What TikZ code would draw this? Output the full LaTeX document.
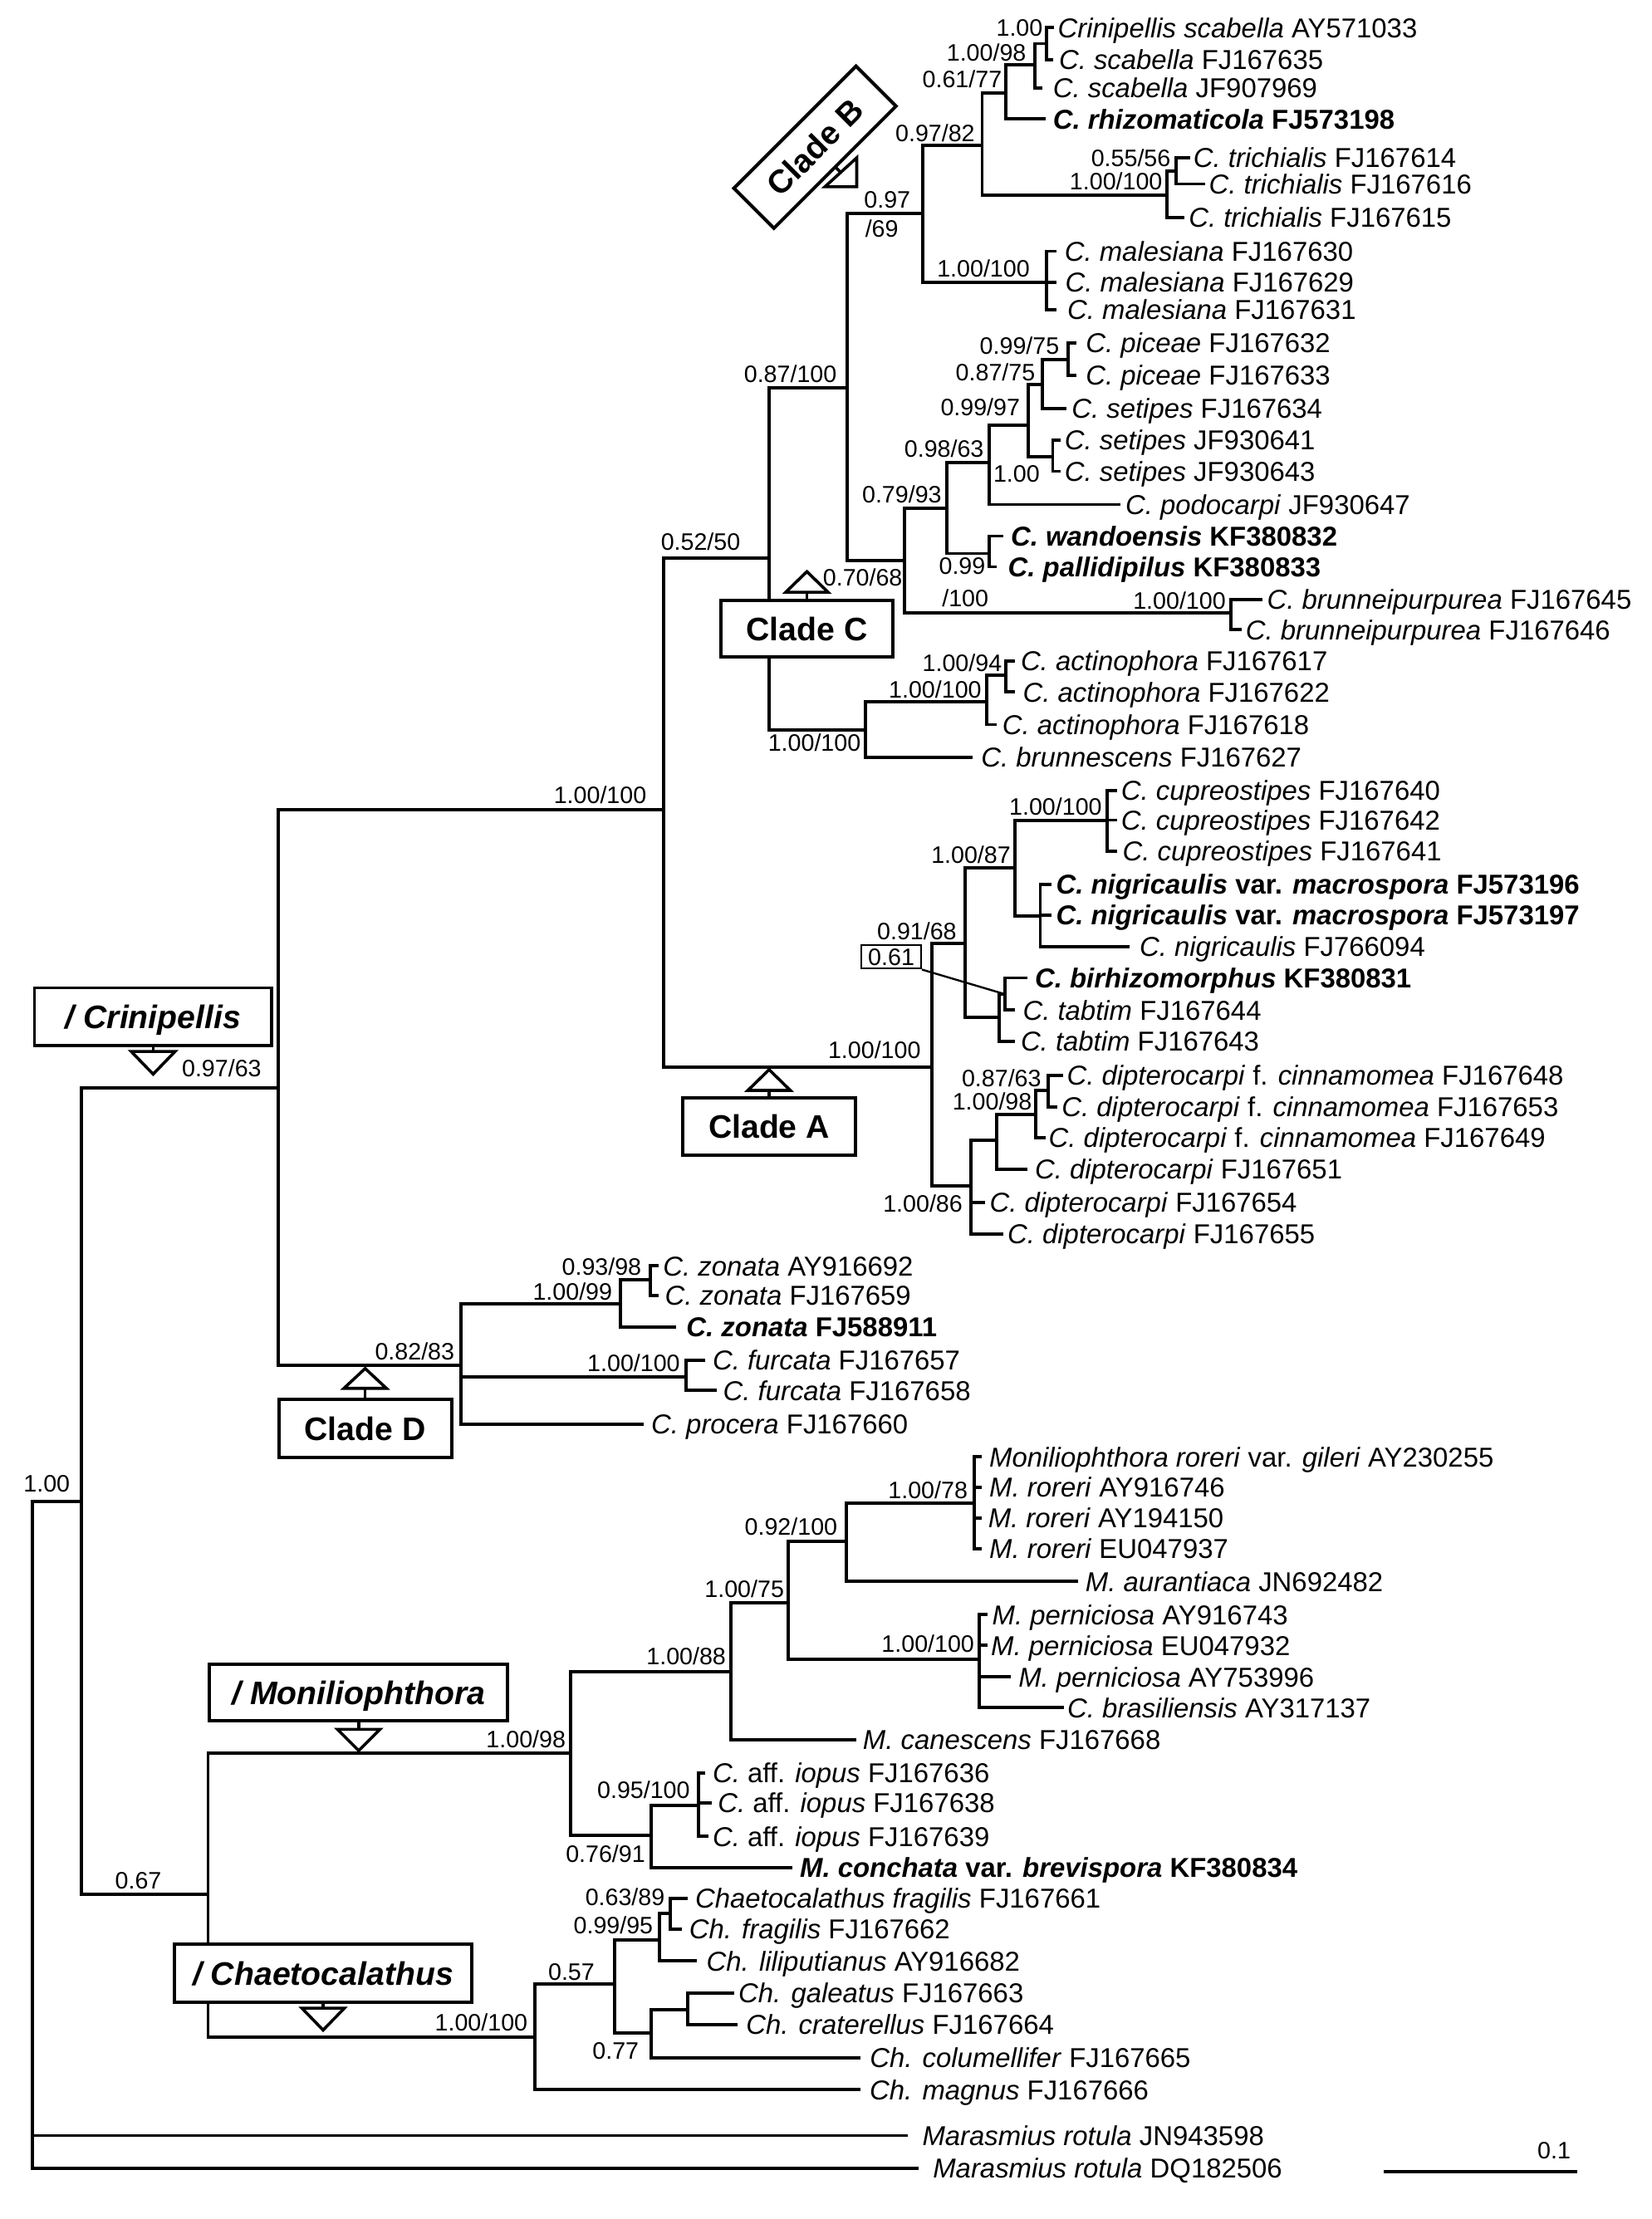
\documentclass[tikz,border=0pt]{standalone}
\usepackage{fontspec}
\setmainfont{Liberation Sans}
\newcommand\taxf{\fontsize{19.3}{22}\selectfont}
\newcommand\supf{\fontsize{16.8}{19}\selectfont}
\newcommand\cladef{\fontsize{23}{26}\selectfont\bfseries}
\newcommand\tipl[5]{\coordinate (e#1) at (#2,#3); \node[tiplab] (t#1) at (#4,#3) {#5};}
\newcommand\supl[4]{\node[suplab] (#1) at (#2,#3) {#4};}
\tikzset{
 br/.style={line width=2.3pt, line cap=rect},
 tiplab/.style={anchor=west, inner sep=0pt, font=\taxf, text height=13.8pt, text depth=0pt},
 suplab/.style={anchor=center, inner sep=0pt, font=\supf, text height=12pt, text depth=0pt},
 cbox/.style={draw, fill=white, line width=2.3pt, font=\cladef, inner sep=0pt, text height=16.5pt, text depth=0pt},
 tri/.style={line width=2.1pt, line join=miter},
}
\begin{document}
\begin{tikzpicture}[x=1pt,y=-1pt]
\fill[white] (0,0) rectangle (1167,1568);
\useasboundingbox (0,0) rectangle (1167,1568);

% internal nodes
\coordinate (R) at (22.9,1061);
\coordinate (I) at (57.3,1061);
\coordinate (CR) at (196.5,768.5);
\coordinate (MC) at (147,1338.6);
\coordinate (A1) at (469,572);
\coordinate (D) at (325.5,965);
\coordinate (N52) at (543.4,394.5);
\coordinate (CA) at (658.5,754);
\coordinate (N87) at (598.5,273.8);
\coordinate (NACT) at (611.6,515.9);
\coordinate (N97) at (651.8,150.6);
\coordinate (N70) at (639.3,396);
\coordinate (N9782) at (693.9,102.7);
\coordinate (NMAL) at (739.5,199.5);
\coordinate (N61) at (710.5,65.5);
\coordinate (NTRI) at (824.7,137.9);
\coordinate (N10098) at (731,46);
\coordinate (N100) at (739.5,30.8);
\coordinate (N55) at (831,120.7);
\coordinate (N79) at (669.2,358.9);
\coordinate (NBRP) at (869.5,433.2);
\coordinate (N98) at (699,326.6);
\coordinate (NWP) at (699,391.1);
\coordinate (N9997) at (726.7,300.2);
\coordinate (NSET) at (743.8,322.7);
\coordinate (N8775) at (736.5,271.8);
\coordinate (N9975) at (754.4,254.2);
\coordinate (N100A) at (696.9,495.7);
\coordinate (N94) at (710.5,477.2);
\coordinate (N91) at (682,666.5);
\coordinate (N86) at (686,838);
\coordinate (N87b) at (717,613);
\coordinate (N61b) at (706,718.7);
\coordinate (NCUP) at (782,580);
\coordinate (NNIG) at (735,647);
\coordinate (N61c) at (710,702.5);
\coordinate (N805) at (704,805.7);
\coordinate (N98b) at (732,787.6);
\coordinate (N8763) at (740.8,770.5);
\coordinate (NZON) at (438.3,921.2);
\coordinate (NFUR) at (484.8,973);
\coordinate (N93) at (459.3,904.5);
\coordinate (MO) at (403,1239);
\coordinate (CH) at (377.7,1439.4);
\coordinate (N88) at (516.5,1181.2);
\coordinate (N76) at (460,1297);
\coordinate (N75) at (556.8,1132.3);
\coordinate (N92) at (598,1089.3);
\coordinate (NPER) at (691.8,1172.4);
\coordinate (NROR) at (688.5,1061.9);
\coordinate (N95) at (493.4,1275.7);
\coordinate (N57) at (434.5,1402);
\coordinate (N9995) at (466.2,1371);
\coordinate (N77) at (460,1436.4);
\coordinate (N63) at (473.5,1351.8);
\coordinate (NGAL) at (485.8,1420);

% tips
\tipl{1}{743.8}{19.6}{747.2}{\textit{Crinipellis scabella} AY571033}
\tipl{2}{743}{42}{748}{\textit{C. scabella} FJ167635}
\tipl{3}{735.2}{62}{743.8}{\textit{C. scabella} JF907969}
\tipl{4}{737.4}{84.1}{743.8}{\bfseries\textit{C. rhizomaticola} FJ573198}
\tipl{5}{839.7}{111.5}{843}{\textit{C. trichialis} FJ167614}
\tipl{6}{850.3}{130}{854}{\textit{C. trichialis} FJ167616}
\tipl{7}{835.4}{153.5}{839.7}{\textit{C. trichialis} FJ167615}
\tipl{8}{745.5}{177.5}{752}{\textit{C. malesiana} FJ167630}
\tipl{9}{745.5}{199.5}{752.5}{\textit{C. malesiana} FJ167629}
\tipl{10}{745.5}{219}{754}{\textit{C. malesiana} FJ167631}
\tipl{11}{759.5}{242.5}{767}{\textit{C. piceae} FJ167632}
\tipl{12}{759.5}{265}{767}{\textit{C. piceae} FJ167633}
\tipl{13}{752.3}{288.5}{757}{\textit{C. setipes} FJ167634}
\tipl{14}{748}{311}{752}{\textit{C. setipes} JF930641}
\tipl{15}{748}{333}{752}{\textit{C. setipes} JF930643}
\tipl{16}{790.6}{356.5}{795}{\textit{C. podocarpi} JF930647}
\tipl{17}{707.5}{378.8}{714}{\bfseries\textit{C. wandoensis} KF380832}
\tipl{18}{703.3}{400.5}{712}{\bfseries\textit{C. pallidipilus} KF380833}
\tipl{19}{890.8}{423.5}{895}{\textit{C. brunneipurpurea} FJ167645}
\tipl{20}{875.9}{445}{880}{\textit{C. brunneipurpurea} FJ167646}
\tipl{21}{716}{467}{721}{\textit{C. actinophora} FJ167617}
\tipl{22}{716}{489}{722.5}{\textit{C. actinophora} FJ167622}
\tipl{23}{703.3}{512}{708}{\textit{C. actinophora} FJ167618}
\tipl{24}{686.2}{535}{693}{\textit{C. brunnescens} FJ167627}
\tipl{25}{788}{558.4}{792}{\textit{C. cupreostipes} FJ167640}
\tipl{26}{788}{579.5}{792}{\textit{C. cupreostipes} FJ167642}
\tipl{27}{788}{601.5}{793}{\textit{C. cupreostipes} FJ167641}
\tipl{28}{742}{625}{746}{\bfseries\textit{C. nigricaulis} var. \textit{macrospora} FJ573196}
\tipl{29}{742}{646.8}{746}{\bfseries\textit{C. nigricaulis} var. \textit{macrospora} FJ573197}
\tipl{30}{797}{669}{805}{\textit{C. nigricaulis} FJ766094}
\tipl{31}{724.6}{691}{731}{\bfseries\textit{C. birhizomorphus} KF380831}
\tipl{32}{716}{713.8}{722.5}{\textit{C. tabtim} FJ167644}
\tipl{33}{716}{736}{721}{\textit{C. tabtim} FJ167643}
\tipl{34}{750}{759.8}{753.6}{\textit{C. dipterocarpi} f. \textit{cinnamomea} FJ167648}
\tipl{35}{746}{782}{750}{\textit{C. dipterocarpi} f. \textit{cinnamomea} FJ167653}
\tipl{36}{737.4}{803.8}{740.8}{\textit{C. dipterocarpi} f. \textit{cinnamomea} FJ167649}
\tipl{37}{724.6}{826}{731}{\textit{C. dipterocarpi} FJ167651}
\tipl{38}{694.7}{849.7}{699}{\textit{C. dipterocarpi} FJ167654}
\tipl{39}{707.6}{872}{711.7}{\textit{C. dipterocarpi} FJ167655}
\tipl{40}{464.2}{894.5}{468.3}{\textit{C. zonata} AY916692}
\tipl{41}{464}{915.3}{469.6}{\textit{C. zonata} FJ167659}
\tipl{42}{476.5}{937.8}{484.8}{\bfseries\textit{C. zonata} FJ588911}
\tipl{43}{497.1}{961.3}{503.3}{\textit{C. furcata} FJ167657}
\tipl{44}{505.4}{982.5}{510.7}{\textit{C. furcata} FJ167658}
\tipl{45}{453.9}{1006.3}{460}{\textit{C. procera} FJ167660}
\tipl{46}{692.6}{1029.5}{698.8}{\textit{Moniliophthora roreri} var. \textit{gileri} AY230255}
\tipl{47}{692.6}{1051}{698.8}{\textit{M. roreri} AY916746}
\tipl{48}{692.6}{1072.7}{698}{\textit{M. roreri} AY194150}
\tipl{49}{692.6}{1094.2}{698.8}{\textit{M. roreri} EU047937}
\tipl{50}{760.5}{1117.5}{766.7}{\textit{M. aurantiaca} JN692482}
\tipl{51}{696.7}{1141}{700.9}{\textit{M. perniciosa} AY916743}
\tipl{52}{696.7}{1162.7}{700}{\textit{M. perniciosa} EU047932}
\tipl{53}{713.2}{1185}{719.4}{\textit{M. perniciosa} AY753996}
\tipl{54}{750.3}{1206.7}{754}{\textit{C. brasiliensis} AY317137}
\tipl{55}{604.1}{1229.5}{609.5}{\textit{M. canescens} FJ167668}
\tipl{56}{497.1}{1252.6}{503.3}{\textit{C.} aff. \textit{iopus} FJ167636}
\tipl{57}{502}{1274}{507}{\textit{C.} aff. \textit{iopus} FJ167638}
\tipl{58}{499.2}{1297.6}{503.3}{\textit{C.} aff. \textit{iopus} FJ167639}
\tipl{59}{558.9}{1319.5}{565}{\bfseries\textit{M. conchata} var. \textit{brevispora} KF380834}
\tipl{60}{484.6}{1341.6}{491}{\textit{Chaetocalathus fragilis} FJ167661}
\tipl{61}{480.5}{1363}{486.8}{\textit{Ch. fragilis} FJ167662}
\tipl{62}{491}{1385.7}{499}{\textit{Ch. liliputianus} AY916682}
\tipl{63}{517.5}{1408.5}{521.6}{\textit{Ch. galeatus} FJ167663}
\tipl{64}{519.7}{1430.5}{527}{\textit{Ch. craterellus} FJ167664}
\tipl{65}{606.8}{1454}{614.4}{\textit{Ch. columellifer} FJ167665}
\tipl{66}{606.8}{1476.6}{614.3}{\textit{Ch. magnus} FJ167666}
\tipl{67}{640}{1509}{651.5}{\textit{Marasmius rotula} JN943598}
\tipl{68}{647.8}{1532}{659}{\textit{Marasmius rotula} DQ182506}

% branches
\foreach \p/\c in {R/I,R/e67,R/e68,I/CR,I/MC,CR/A1,CR/D,A1/N52,A1/CA,
 N52/N87,N52/NACT,N87/N97,N87/N70,N97/N9782,N97/NMAL,N9782/N61,N9782/NTRI,
 N61/N10098,N61/e4,N10098/N100,N10098/e3,N100/e1,N100/e2,NTRI/N55,NTRI/e7,
 N55/e5,N55/e6,NMAL/e8,NMAL/e9,NMAL/e10,N70/N79,N70/NBRP,NBRP/e19,NBRP/e20,
 N79/N98,N79/NWP,NWP/e17,NWP/e18,N98/N9997,N98/e16,N9997/N8775,N9997/NSET,
 NSET/e14,NSET/e15,N8775/N9975,N8775/e13,N9975/e11,N9975/e12,
 NACT/N100A,NACT/e24,N100A/N94,N100A/e23,N94/e21,N94/e22,
 CA/N91,CA/N86,N91/N87b,N91/N61b,N87b/NCUP,N87b/NNIG,NCUP/e25,NCUP/e26,NCUP/e27,
 NNIG/e28,NNIG/e29,NNIG/e30,N61b/N61c,N61b/e33,N61c/e31,N61c/e32,
 N86/N805,N86/e38,N86/e39,N805/N98b,N805/e37,N98b/N8763,N98b/e36,N8763/e34,N8763/e35,
 D/NZON,D/NFUR,D/e45,NZON/N93,NZON/e42,N93/e40,N93/e41,NFUR/e43,NFUR/e44,
 MC/MO,MC/CH,MO/N88,MO/N76,N88/N75,N88/e55,N75/N92,N75/NPER,N92/NROR,N92/e50,
 NROR/e46,NROR/e47,NROR/e48,NROR/e49,NPER/e51,NPER/e52,NPER/e53,NPER/e54,
 N76/N95,N76/e59,N95/e56,N95/e57,N95/e58,
 CH/N57,CH/e66,N57/N9995,N57/N77,N9995/N63,N9995/e62,N63/e60,N63/e61,
 N77/NGAL,N77/e65,NGAL/e63,NGAL/e64}
 \draw[br] (\p) |- (\c);

% support values
\supl{s1}{33}{1048}{1.00}
\supl{s2}{156.6}{755}{0.97/63}
\supl{s3}{97.7}{1329}{0.67}
\supl{s4}{424}{562}{1.00/100}
\supl{s5}{293}{955}{0.82/83}
\supl{s6}{495}{383}{0.52/50}
\supl{s7}{558.4}{264}{0.87/100}
\supl{s8}{626.9}{140.8}{0.97}
\supl{s9}{623}{161.4}{/69}
\supl{s10}{660.7}{93.9}{0.97/82}
\supl{s11}{679.8}{55.7}{0.61/77}
\supl{s12}{696.9}{37.2}{1.00/98}
\supl{s13}{720.3}{19.6}{1.00}
\supl{s14}{799}{111.5}{0.55/56}
\supl{s15}{788.5}{128}{1.00/100}
\supl{s16}{694.8}{189.7}{1.00/100}
\supl{s17}{720.3}{244.5}{0.99/75}
\supl{s18}{703.3}{263}{0.87/75}
\supl{s19}{692.6}{287.5}{0.99/97}
\supl{s20}{718.2}{334.4}{1.00}
\supl{s21}{667}{316.8}{0.98/63}
\supl{s22}{637.2}{349.1}{0.79/93}
\supl{s23}{679.8}{400}{0.99}
\supl{s24}{682}{422.4}{/100}
\supl{s25}{609.5}{407.8}{0.70/68}
\supl{s26}{833.3}{424.4}{1.00/100}
\supl{s27}{679.8}{468.4}{1.00/94}
\supl{s28}{660.7}{487}{1.00/100}
\supl{s29}{575.4}{525}{1.00/100}
\supl{s30}{745.8}{570}{1.00/100}
\supl{s31}{686}{604}{1.00/87}
\supl{s32}{647.8}{658}{0.91/68}
\supl{s33}{617.8}{742}{1.00/100}
\supl{s34}{707.6}{761.7}{0.87/63}
\supl{s35}{701}{778.4}{1.00/98}
\supl{s36}{652}{850.7}{1.00/86}
\supl{s37}{425.1}{894.8}{0.93/98}
\supl{s38}{404.5}{912.4}{1.00/99}
\supl{s39}{447.7}{963.2}{1.00/100}
\supl{s40}{655.6}{1053.1}{1.00/78}
\supl{s41}{558.9}{1078.6}{0.92/100}
\supl{s42}{525.9}{1122.6}{1.00/75}
\supl{s43}{655.6}{1161.7}{1.00/100}
\supl{s44}{484.8}{1170.5}{1.00/88}
\supl{s45}{371.6}{1229.2}{1.00/98}
\supl{s46}{454.7}{1264.7}{0.95/100}
\supl{s47}{427.8}{1310}{0.76/91}
\supl{s48}{441.6}{1340.6}{0.63/89}
\supl{s49}{433.3}{1360.2}{0.99/95}
\supl{s50}{403.7}{1393.5}{0.57}
\supl{s51}{340}{1429}{1.00/100}
\supl{s52}{435}{1449}{0.77}

% boxed 0.61
\node[draw, line width=1.3pt, font=\supf, inner sep=0pt, minimum width=42, minimum height=16.5, text height=12pt, text depth=0pt] (b61) at (629.7,676.2) {0.61};
\draw[line width=1.4pt] (b61.south east) -- (N61c);

% clade boxes
\node[cbox, rotate=45, minimum width=122, minimum height=40] (cladeB) at (575.8,104) {Clade B};
\node[cbox, minimum width=121.4, minimum height=40] (cladeC) at (570.1,444.4) {Clade C};
\node[cbox, minimum width=121.9, minimum height=40.5] (cladeA) at (543.4,795.8) {Clade A};
\node[cbox, minimum width=122, minimum height=41] (cladeD) at (258,1009.5) {Clade D};
\node[cbox, minimum width=167.7, minimum height=41] (crin) at (108.2,718.5) {\itshape / Crinipellis};
\node[cbox, minimum width=210.7, minimum height=40] (moni) at (253.4,1196) {\itshape / Moniliophthora};
\node[cbox, minimum width=210.5, minimum height=40.6] (chae) at (228.3,1394.3) {\itshape / Chaetocalathus};

% clade markers
\draw[tri, fill=white] (605.3,111.5) -- (605.3,132) -- (582.8,132) -- cycle;
\draw[tri] (590.1,117.9) -- (594,121.8);
\draw[tri] (cladeC.north) -- (570.1,418.5);
\draw[tri, fill=white] (555.1,418.5) -- (570.1,403.9) -- (585.1,418.5) -- cycle;
\draw[tri] (cladeA.north) -- (543.4,770.5);
\draw[tri, fill=white] (528.4,770.5) -- (543.4,755.8) -- (558.4,770.5) -- cycle;
\draw[tri] (cladeD.north) -- (258,981);
\draw[tri, fill=white] (243,981) -- (258,967) -- (273,981) -- cycle;
\draw[tri] (crin.south) -- (108.2,743);
\draw[tri, fill=white] (92.7,743) -- (123.7,743) -- (108.2,759) -- cycle;
\draw[tri] (moni.south) -- (253.4,1222);
\draw[tri, fill=white] (238.4,1222) -- (268.4,1222) -- (253.4,1237) -- cycle;
\draw[tri] (chae.south) -- (228.3,1419);
\draw[tri, fill=white] (213.3,1419) -- (243.3,1419) -- (228.3,1434.5) -- cycle;

% scale bar
\coordinate (sb1) at (979,1534.7);
\coordinate (sb2) at (1113,1534.7);
\draw[br] (sb1) -- (sb2);
\supl{s53}{1098}{1519.6}{0.1}
\end{tikzpicture}
\end{document}
